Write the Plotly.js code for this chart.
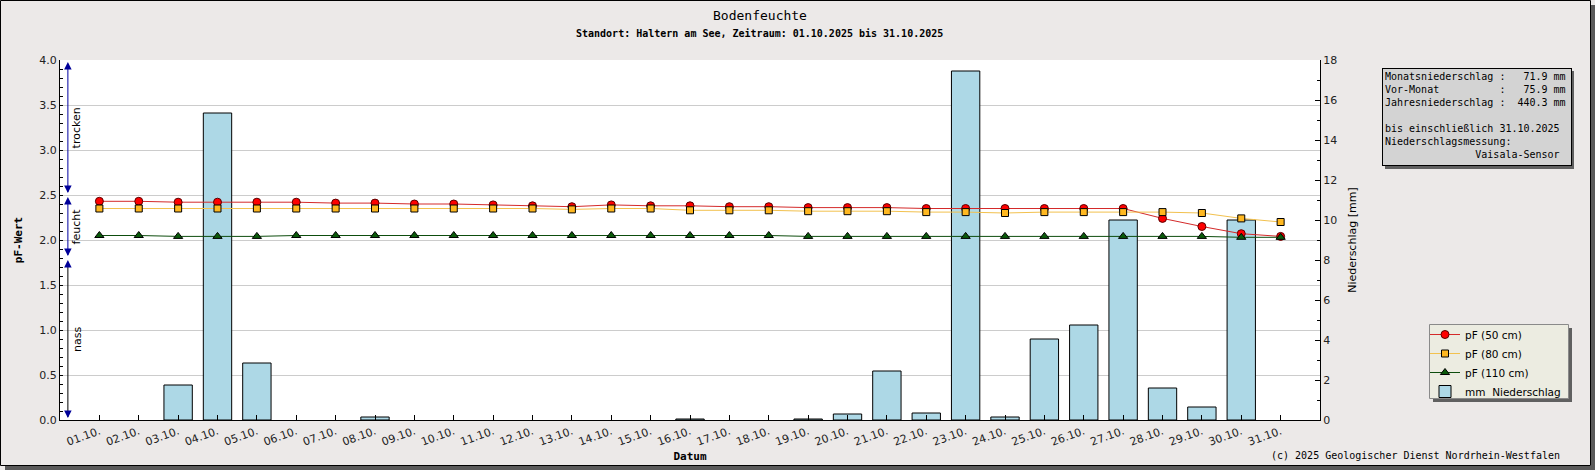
<!DOCTYPE html>
<html><head><meta charset="utf-8">
<script src="https://cdn.plot.ly/plotly-3.0.1.min.js"></script>
<style>html,body{margin:0;padding:0;background:#ECE9E8;} #chart{width:1595px;height:470px;}</style>
</head><body><div id="chart"></div>
<script>
// ---------- data ----------
const dayLabels = ['01.10.','02.10.','03.10.','04.10.','05.10.','06.10.','07.10.','08.10.','09.10.','10.10.',
  '11.10.','12.10.','13.10.','14.10.','15.10.','16.10.','17.10.','18.10.','19.10.','20.10.',
  '21.10.','22.10.','23.10.','24.10.','25.10.','26.10.','27.10.','28.10.','29.10.','30.10.','31.10.'];
const pf50  = [2.43,2.43,2.42,2.42,2.42,2.42,2.41,2.41,2.40,2.40,2.39,2.38,2.37,2.39,2.38,2.38,2.37,2.37,2.36,2.36,
               2.36,2.35,2.35,2.35,2.35,2.35,2.35,2.24,2.15,2.07,2.04];
const pf80  = [2.35,2.35,2.35,2.35,2.35,2.35,2.35,2.35,2.35,2.35,2.35,2.35,2.34,2.35,2.35,2.33,2.33,2.33,2.32,2.32,
               2.32,2.31,2.31,2.30,2.31,2.31,2.31,2.31,2.30,2.24,2.20];
const pf110 = [2.05,2.05,2.04,2.04,2.04,2.05,2.05,2.05,2.05,2.05,2.05,2.05,2.05,2.05,2.05,2.05,2.05,2.05,2.04,2.04,
               2.04,2.04,2.04,2.04,2.04,2.04,2.04,2.04,2.04,2.03,2.03];
const rainMm = [0,0,1.75,15.35,2.85,0,0,0.15,0,0,0,0,0,0,0,0.05,0,0,0.05,0.3,
                2.45,0.35,17.45,0.15,4.05,4.75,10.0,1.6,0.65,10.0,0];
const seriesNames = ['pF (50 cm)','pF (80 cm)','pF (110 cm)','mm\u00A0\u00A0Niederschlag'];
const zoneTop    = [4.0, 2.5, 1.8];
const zoneBottom = [2.5, 1.8, 0.0];
const zoneNames  = ['trocken','feucht','nass'];
const zoneLineColors = ['#0000A0','#0000A0','#000000'];
const infoLines = [
  'Monatsniederschlag :   71.9 mm',
  'Vor-Monat          :   75.9 mm',
  'Jahresniederschlag :  440.3 mm',
  '',
  'bis einschließlich 31.10.2025',
  'Niederschlagsmessung:',
  '               Vaisala-Sensor'
];
const titleText = 'Bodenfeuchte';
const subtitleText = 'Standort: Haltern am See, Zeitraum: 01.10.2025 bis 31.10.2025';
const copyrightText = '(c) 2025 Geologischer Dienst Nordrhein-Westfalen';

// ---------- geometry helpers (pixels -> paper) ----------
const W = 1595, H = 470, ML = 60, MR = 275, MT = 60, MB = 50;
const PW = W - ML - MR, PH = H - MT - MB;
const X = px => (px - ML) / PW;
const Y = py => (MT + PH - py) / PH;

const mono = 'DejaVu Sans Mono';
const sans = 'DejaVu Sans';

const traces = [
  {type:'bar', x: dayLabels, y: rainMm.map(v => v > 0 ? v : null), yaxis:'y', name: seriesNames[3], legendrank: 4,
   width: 0.72, marker:{color:'#ADD8E6', line:{color:'#000', width:1}}, hoverinfo:'skip'},
  {type:'scatter', mode:'lines+markers', x: dayLabels, y: pf50, yaxis:'y2', name: seriesNames[0], legendrank: 1,
   line:{color:'#D42A2A', width:1}, marker:{symbol:'circle', size:8, color:'#FF0000', line:{color:'#5a0000', width:1}}, hoverinfo:'skip'},
  {type:'scatter', mode:'lines+markers', x: dayLabels, y: pf80, yaxis:'y2', name: seriesNames[1], legendrank: 2,
   line:{color:'#F2C14E', width:1}, marker:{symbol:'square', size:7, color:'#FFB820', line:{color:'#000', width:1}}, hoverinfo:'skip'},
  {type:'scatter', mode:'lines+markers', x: dayLabels, y: pf110, yaxis:'y2', name: seriesNames[2], legendrank: 3,
   line:{color:'#0D4D0D', width:1}, marker:{symbol:'triangle-up', size:8, color:'#0A5A0A', line:{color:'#000', width:1}}, hoverinfo:'skip'}
];

const annotations = [];
// subtitle
annotations.push({xref:'paper', yref:'paper', x:X(759), y:Y(33), xanchor:'center', yanchor:'middle', showarrow:false,
  text:'<b>'+subtitleText+'</b>', font:{family:mono, size:10, color:'#000'}});
// copyright
annotations.push({xref:'paper', yref:'paper', x:X(1562), y:Y(455), xanchor:'right', yanchor:'middle', showarrow:false,
  text:copyrightText, font:{family:mono, size:10, color:'#000'}});
// info box
annotations.push({xref:'paper', yref:'paper', x:X(1382), y:Y(68), xanchor:'left', yanchor:'top', showarrow:false,
  align:'left', valign:'top', width:184, height:92,
  text: infoLines.map(s => s.replace(/ /g,'\u00A0')).join('<br>'),
  font:{family:mono, size:10, color:'#000'}, bgcolor:'#D3D3D3', bordercolor:'#000', borderwidth:1, borderpad:2});
// zone arrows
const arrowX = -0.8, zoneLabelX = -0.57;
zoneTop.forEach((top, i) => {
  const bot = zoneBottom[i];
  annotations.push({xref:'x', yref:'y2', axref:'x', ayref:'y2', x:arrowX, y:bot, ax:arrowX, ay:top,
    text:'', showarrow:true, arrowhead:0, arrowwidth:1, arrowcolor:zoneLineColors[i], standoff:3, startstandoff:3});
  annotations.push({xref:'x', yref:'y2', x:arrowX, y:top, ax:0, ay:7, text:'', showarrow:true,
    arrowhead:2, arrowsize:1.5, arrowwidth:1, arrowcolor:'#000099', standoff:2});
  annotations.push({xref:'x', yref:'y2', x:arrowX, y:bot, ax:0, ay:-7, text:'', showarrow:true,
    arrowhead:2, arrowsize:1.5, arrowwidth:1, arrowcolor:'#000099', standoff:2});
  annotations.push({xref:'x', yref:'y2', x:zoneLabelX, y:(top+bot)/2, text:zoneNames[i], textangle:-90, showarrow:false,
    xanchor:'center', yanchor:'middle', font:{family:sans, size:11, color:'#000'}});
});

const shapes = [
  // outer frame + shadow
  {type:'rect', xref:'paper', yref:'paper', x0:X(1591), x1:X(1596), y0:Y(5), y1:Y(471), fillcolor:'#5a5a5a', line:{width:0}, layer:'below'},
  {type:'rect', xref:'paper', yref:'paper', x0:X(5), x1:X(1596), y0:Y(466), y1:Y(471), fillcolor:'#5a5a5a', line:{width:0}, layer:'below'},
  {type:'rect', xref:'paper', yref:'paper', x0:X(0.5), x1:X(1590.5), y0:Y(0.5), y1:Y(465.5), fillcolor:'rgba(0,0,0,0)', line:{color:'#000', width:1}, layer:'below'},
  // info box shadow
  {type:'rect', xref:'paper', yref:'paper', x0:X(1385), x1:X(1574), y0:Y(71), y1:Y(169), fillcolor:'#606060', line:{width:0}, layer:'below'},
  // legend shadow + box
  {type:'rect', xref:'paper', yref:'paper', x0:X(1433), x1:X(1572), y0:Y(328), y1:Y(402), fillcolor:'#606060', line:{width:0}, layer:'below'},
  {type:'rect', xref:'paper', yref:'paper', x0:X(1429.5), x1:X(1568.5), y0:Y(324.5), y1:Y(398.5), fillcolor:'#ECECE1', line:{color:'#8a8a8a', width:1}, layer:'below'}
];

const tickFont = {family:sans, size:11, color:'#222'};
const layout = {
  width: W, height: H,
  margin:{l:ML, r:MR, t:MT, b:MB, pad:0},
  paper_bgcolor:'#ECE9E8', plot_bgcolor:'#FFFFFF',
  title:{text:titleText, font:{family:mono, size:13, color:'#000'}, xref:'container', yref:'container',
         x:760/W, xanchor:'center', y:1-15/H, yanchor:'middle'},
  showlegend:true,
  legend:{x:X(1425), y:Y(320), xanchor:'left', yanchor:'top', bgcolor:'rgba(0,0,0,0)', borderwidth:0,
          font:{family:sans, size:10.5, color:'#000'}, itemwidth:30, traceorder:'normal', tracegroupgap:0},
  xaxis:{type:'category', range:[-1,31], tickangle:-20, ticks:'inside', ticklen:5, tickcolor:'#000',
         showline:true, linecolor:'#000', linewidth:1, showgrid:false, zeroline:false, tickfont:tickFont,
         title:{text:'<b>Datum</b>', font:{family:mono, size:11, color:'#000'}, standoff:4}, fixedrange:true},
  yaxis:{range:[0,18], side:'right', dtick:2, ticks:'inside', ticklen:5, tickcolor:'#000',
         minor:{dtick:1, ticks:'inside', ticklen:3, tickcolor:'#000'},
         showline:true, linecolor:'#000', linewidth:1, showgrid:false, zeroline:false, tickfont:tickFont,
         title:{text:'Niederschlag [mm]', font:{family:sans, size:11, color:'#000'}, standoff:12}, fixedrange:true},
  yaxis2:{range:[0,4], overlaying:'y', side:'left', dtick:0.5, tickformat:'.1f', ticks:'inside', ticklen:3, tickcolor:'#000',
          minor:{dtick:0.1, ticks:'inside', ticklen:3, tickcolor:'#000'},
          showline:true, linecolor:'#000', linewidth:1, showgrid:true, gridcolor:'#CCCCCC', gridwidth:1, zeroline:false,
          tickfont:tickFont, title:{text:'<b>pF-Wert</b>', font:{family:mono, size:11, color:'#000'}, standoff:14}, fixedrange:true},
  annotations: annotations,
  shapes: shapes
};

Plotly.newPlot('chart', traces, layout, {staticPlot:true, displayModeBar:false});
</script>
</body></html>
